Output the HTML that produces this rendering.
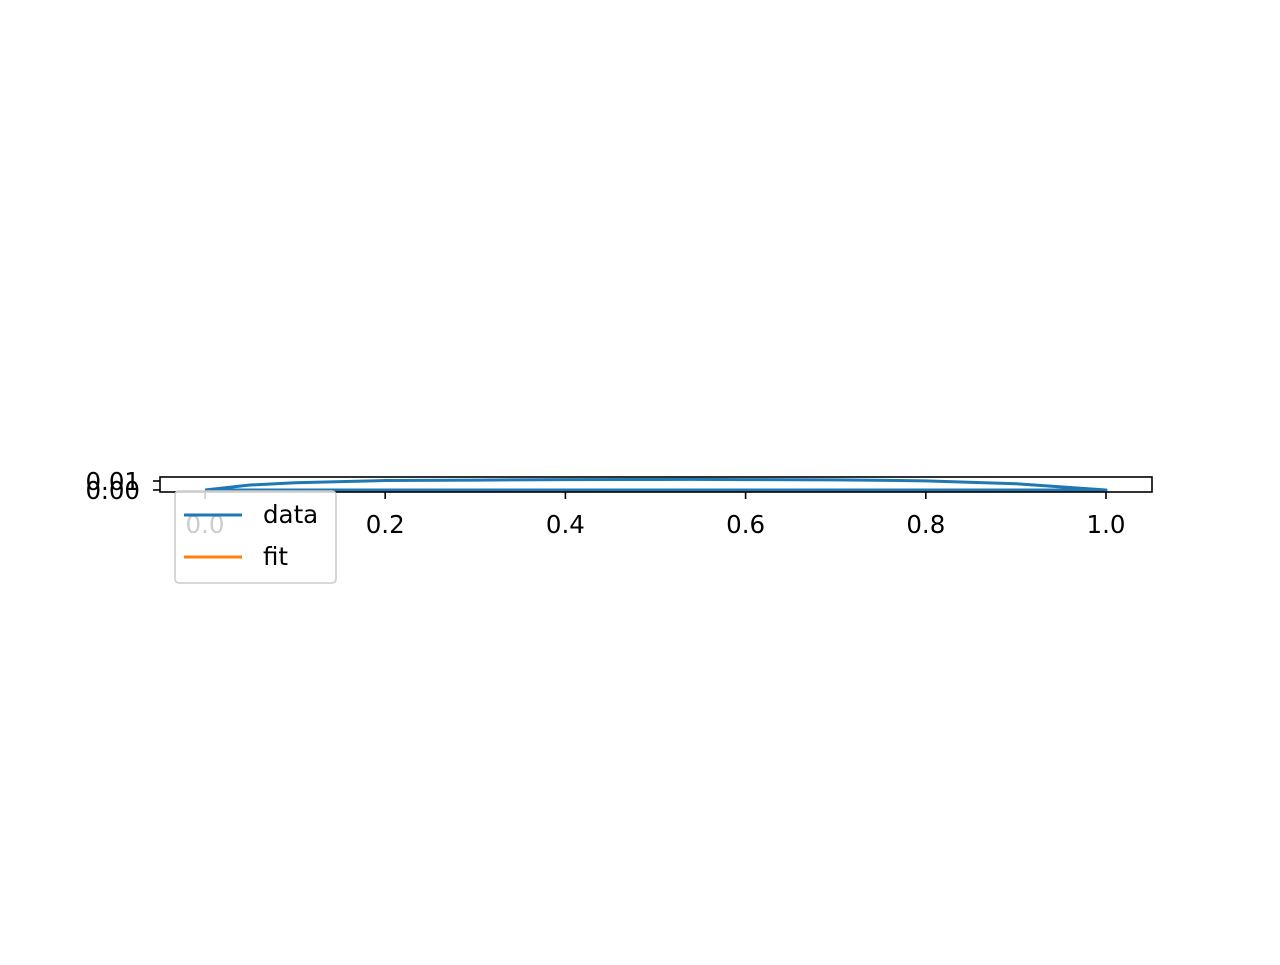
<!DOCTYPE html>
<html><head><meta charset="utf-8"><style>
body{margin:0;background:#fff;width:1280px;height:960px;overflow:hidden;font-family:"Liberation Sans","DejaVu Sans",sans-serif}
</style></head><body>
<svg id="chart" width="1280" height="960" xmlns="http://www.w3.org/2000/svg" font-family="DejaVu Sans, Liberation Sans, sans-serif">
<g id="plot"></g>
</svg>
<script>
const xVals=[0,0.05,0.1,0.2,0.3,0.4,0.5,0.54,0.6,0.7,0.8,0.9,0.95,1.0];
const upperVals=[0,0.0055,0.008,0.0105,0.011,0.0115,0.0117,0.0118,0.0115,0.0113,0.0102,0.007,0.0035,0];
const lowerVals=[0,0,0,0,0,0,0,0,0,0,0,0,0,0];
const xTicks=[0.0,0.2,0.4,0.6,0.8,1.0];
const xTickLabels=["0.0","0.2","0.4","0.6","0.8","1.0"];
const yTicks=[0.00,0.01];
const yTickLabels=["0.00","0.01"];
const L=160,R=1152,T=477,B=492;
const sx=v=>205+v*901;
const sy=v=>490-v*900;
const NS="http://www.w3.org/2000/svg";
const g=document.getElementById('plot');
function mk(t,a){const e=document.createElementNS(NS,t);for(const k in a)e.setAttribute(k,a[k]);g.appendChild(e);return e;}
let d="M"+xVals.map((x,i)=>sx(x)+","+sy(upperVals[i])).join("L");
for(let i=xVals.length-1;i>=0;i--)d+="L"+sx(xVals[i])+","+sy(lowerVals[i]);
const line=mk('path',{d:d,fill:'none',stroke:'#1f77b4','stroke-width':3,'stroke-linejoin':'round'});


const fr=mk('rect',{x:L,y:T,width:R-L,height:B-T,fill:'none',stroke:'#000','stroke-width':1.6});


xTicks.forEach((v,i)=>{
 const tk=mk('line',{x1:sx(v),x2:sx(v),y1:B,y2:B+7,stroke:'#000','stroke-width':1.6});
 
 
 const t=mk('text',{x:sx(v),y:B+41,'font-size':24.5,'text-anchor':'middle',fill:'#000'});
 t.textContent=xTickLabels[i];
 
 
});
yTicks.forEach((v,i)=>{
 const tk=mk('line',{x1:L-7,x2:L,y1:sy(v),y2:sy(v),stroke:'#000','stroke-width':1.6});
 
 
 const t=mk('text',{x:L-20,y:sy(v)+9,'font-size':24.5,'text-anchor':'end',fill:'#000'});
 t.textContent=yTickLabels[i];
 
 
});
const lg=mk('rect',{x:175,y:491,width:161,height:92,rx:4,fill:'#fff','fill-opacity':0.8,stroke:'#ccc','stroke-width':1.6});


[["data","#1f77b4",515],["fit","#ff7f0e",557]].forEach(([n,c,y])=>{
 const l=mk('line',{x1:184,x2:242,y1:y,y2:y,stroke:c,'stroke-width':3});
 
 
 const t=mk('text',{x:263,y:y+8,'font-size':24.5,fill:'#000'});
 t.textContent=n;
 
 
});
</script>
</body></html>
